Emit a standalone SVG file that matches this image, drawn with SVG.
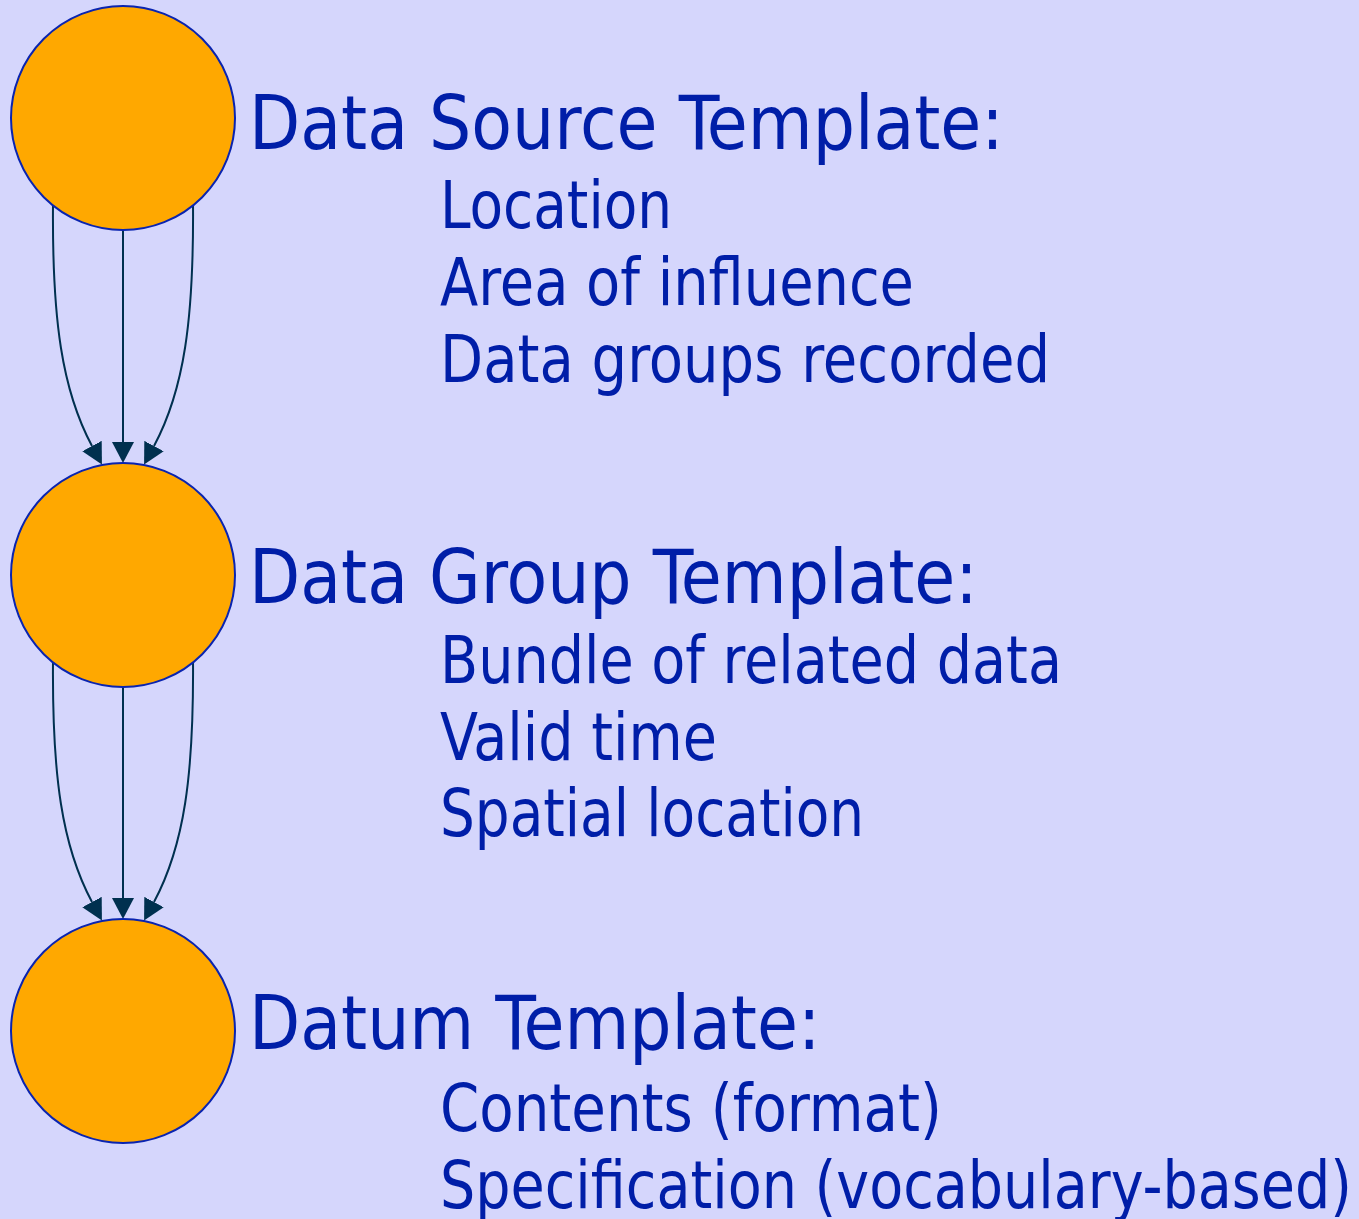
<svg xmlns="http://www.w3.org/2000/svg" width="1359" height="1219" viewBox="0 0 1359 1219">
  <defs>
    <marker id="arrow" markerUnits="userSpaceOnUse" markerWidth="21" markerHeight="22" refX="0" refY="11" orient="auto">
      <path d="M0,0 L21,11 L0,22 z" fill="#00304f"/>
    </marker>
    <style>
      .node circle { fill: #ffa800; stroke: #0a24b0; stroke-width: 2; }
      .edge { fill: none; stroke: #00304f; stroke-width: 2; marker-end: url(#arrow); }
      .title { font-family: "DejaVu Sans Condensed", "DejaVu Sans", sans-serif; font-size: 74px; fill: #001ea8; }
      .item { font-family: "DejaVu Sans Condensed", "DejaVu Sans", sans-serif; font-size: 65px; fill: #001ea8; }
    </style>
  </defs>
  <rect width="1359" height="1219" fill="#d5d6fc"/>

  <g id="connectors">
    <!-- source to group -->
    <path class="edge" d="M53,204 C52,320 62,390 92,446"/>
    <path class="edge" d="M123,230 L123,442"/>
    <path class="edge" d="M193,202 C194,320 184,390 154,446"/>
    <!-- group to datum -->
    <path class="edge" d="M53,660 C52,776 62,846 92,902"/>
    <path class="edge" d="M123,687 L123,898"/>
    <path class="edge" d="M193,658 C194,776 184,846 154,902"/>
  </g>

  <g id="data-source" class="node">
    <circle cx="123" cy="118" r="112"/>
    <text class="title" x="249" y="149">Data Source Template:</text>
    <text class="item" x="440" y="228" textLength="232" lengthAdjust="spacingAndGlyphs">Location</text>
    <text class="item" x="440" y="305" textLength="474" lengthAdjust="spacingAndGlyphs">Area of influence</text>
    <text class="item" x="440" y="382" textLength="610" lengthAdjust="spacingAndGlyphs">Data groups recorded</text>
  </g>

  <g id="data-group" class="node">
    <circle cx="123" cy="575" r="112"/>
    <text class="title" x="249" y="603">Data Group Template:</text>
    <text class="item" x="440" y="683" textLength="622" lengthAdjust="spacingAndGlyphs">Bundle of related data</text>
    <text class="item" x="440" y="760" textLength="277" lengthAdjust="spacingAndGlyphs">Valid time</text>
    <text class="item" x="440" y="836" textLength="424" lengthAdjust="spacingAndGlyphs">Spatial location</text>
  </g>

  <g id="datum" class="node">
    <circle cx="123" cy="1031" r="112"/>
    <text class="title" x="249" y="1049">Datum Template:</text>
    <text class="item" x="440" y="1131" textLength="502" lengthAdjust="spacingAndGlyphs">Contents (format)</text>
    <text class="item" x="440" y="1208" textLength="912" lengthAdjust="spacingAndGlyphs">Specification (vocabulary-based)</text>
  </g>
</svg>
